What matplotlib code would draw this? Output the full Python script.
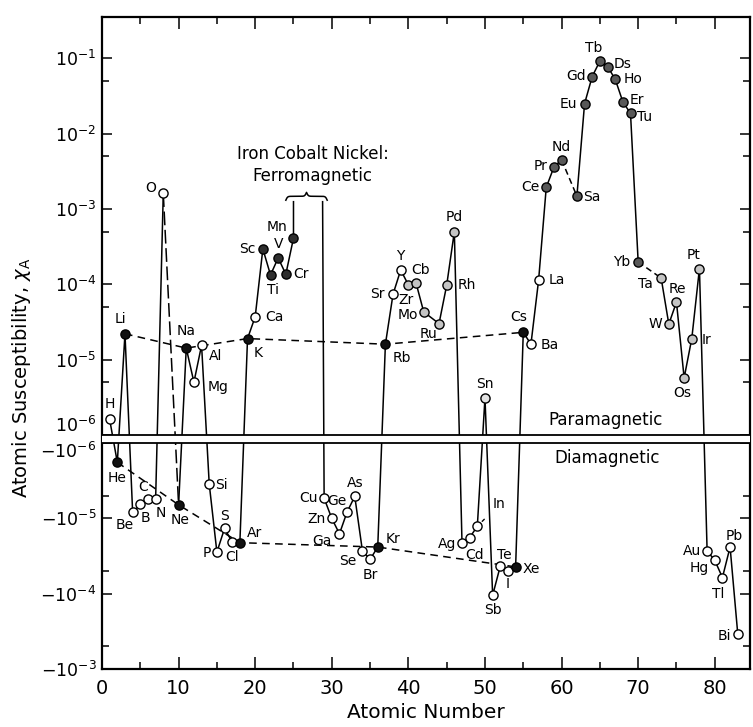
import numpy as np
import matplotlib
matplotlib.use('Agg')
import matplotlib.pyplot as plt
from matplotlib.ticker import FixedLocator, FixedFormatter
from matplotlib.transforms import blended_transform_factory

# ---------------- data ----------------
symbols = ['H', 'He', 'Li', 'Be', 'B', 'C', 'N', 'O', 'Ne', 'Na', 'Mg', 'Al', 'Si', 'P', 'S',
           'Cl', 'Ar', 'K', 'Ca', 'Sc', 'Ti', 'V', 'Cr', 'Mn', 'Cu', 'Zn', 'Ga', 'Ge', 'As',
           'Se', 'Br', 'Kr', 'Rb', 'Sr', 'Y', 'Zr', 'Cb', 'Mo', 'Ru', 'Rh', 'Pd', 'Ag', 'Cd',
           'In', 'Sn', 'Sb', 'Te', 'I', 'Xe', 'Cs', 'Ba', 'La', 'Ce', 'Pr', 'Nd', 'Sa', 'Eu',
           'Gd', 'Tb', 'Ds', 'Ho', 'Er', 'Tu', 'Yb', 'Ta', 'W', 'Re', 'Os', 'Ir', 'Pt', 'Au',
           'Hg', 'Tl', 'Pb', 'Bi']
atomic_number = [1, 2, 3, 4, 5, 6, 7, 8, 10, 11, 12, 13, 14, 15, 16,
                 17, 18, 19, 20, 21, 22, 23, 24, 25, 29, 30, 31, 32, 33,
                 34, 35, 36, 37, 38, 39, 40, 41, 42, 44, 45, 46, 47, 48,
                 49, 50, 51, 52, 53, 54, 55, 56, 57, 58, 59, 60, 62, 63,
                 64, 65, 66, 67, 68, 69, 70, 73, 74, 75, 76, 77, 78, 79,
                 80, 81, 82, 83]
susceptibility = [1.6e-6, -1.8e-6, 2.2e-5, -8.3e-6, -6.5e-6, -5.6e-6, -5.6e-6, 1.62e-3,
                  -6.6e-6, 1.42e-5, 5.0e-6, 1.55e-5, -3.5e-6, -2.8e-5, -1.36e-5,
                  -2.06e-5, -2.1e-5, 1.9e-5, 3.7e-5, 2.95e-4, 1.33e-4, 2.24e-4, 1.36e-4, 4.1e-4,
                  -5.4e-6, -1.0e-5, -1.6e-5, -8.2e-6, -5.1e-6,
                  -2.7e-5, -3.5e-5, -2.4e-5, 1.6e-5, 7.4e-5, 1.55e-4, 9.8e-5, 1.04e-4, 4.3e-5,
                  3.0e-5, 9.7e-5, 5.0e-4, -2.1e-5, -1.8e-5,
                  -1.27e-5, 3.1e-6, -1.05e-4, -4.3e-5, -5.0e-5, -4.4e-5, 2.3e-5, 1.6e-5, 1.13e-4,
                  1.94e-3, 3.6e-3, 4.5e-3, 1.48e-3, 2.5e-2,
                  5.75e-2, 9.2e-2, 7.8e-2, 5.3e-2, 2.65e-2, 1.86e-2, 1.98e-4, 1.21e-4, 2.96e-5,
                  5.8e-5, 5.7e-6, 1.9e-5, 1.62e-4, -2.7e-5,
                  -3.6e-5, -6.1e-5, -2.4e-5, -3.4e-4]
alkali_metals = ['Li', 'Na', 'K', 'Rb', 'Cs']
noble_gases = ['He', 'Ne', 'Ar', 'Kr', 'Xe']
iron_group_3d = ['Sc', 'Ti', 'V', 'Cr', 'Mn']
rare_earths = ['Ce', 'Pr', 'Nd', 'Sa', 'Eu', 'Gd', 'Tb', 'Ds', 'Ho', 'Er', 'Tu', 'Yb']
transition_4d5d = ['Zr', 'Cb', 'Mo', 'Ru', 'Rh', 'Pd', 'Ta', 'W', 'Re', 'Os', 'Ir', 'Pt']
tin_group = ['Sn']
dashed_pairs = [('O', 'Ne'), ('Nd', 'Sa'), ('Yb', 'Ta')]
ferro_pair = ('Mn', 'Cu')
ferro_gap_z = [25.0, 28.8]          # Fe, Co, Ni off scale
ferro_gap_top = 1.25e-3
y_ticks = [1e-1, 1e-2, 1e-3, 1e-4, 1e-5, 1e-6, -1e-6, -1e-5, -1e-4, -1e-3]
y_tick_labels = [r'$10^{-1}$', r'$10^{-2}$', r'$10^{-3}$', r'$10^{-4}$', r'$10^{-5}$',
                 r'$10^{-6}$', r'$-10^{-6}$', r'$-10^{-5}$', r'$-10^{-4}$', r'$-10^{-3}$']
y_minor = [5e-2, 5e-3, 5e-4, 5e-5, 5e-6, -5e-6, -5e-5, -5e-4]
x_ticks = [0, 10, 20, 30, 40, 50, 60, 70, 80]

assert len(symbols) == len(atomic_number) == len(susceptibility)

# ---------------- label placement (pixel offsets, ha) ----------------
label_pos = {
    'H': (0, 15, 'center'), 'Li': (-5, 15, 'center'), 'O': (-13, 5, 'center'),
    'Na': (0, 17, 'center'), 'Mg': (14, -5, 'left'), 'Al': (7, -11, 'left'),
    'K': (11, -14, 'center'), 'Ca': (10, 0, 'left'), 'Sc': (-7, 0, 'right'),
    'Ti': (2, -15, 'center'), 'V': (0, 14, 'center'), 'Cr': (7, 0, 'left'),
    'Mn': (-16, 11, 'center'), 'Sr': (-8, 0, 'right'), 'Y': (0, 14, 'center'),
    'Cb': (5, 13, 'center'), 'Zr': (-2, -15, 'center'), 'Mo': (-6, -3, 'right'),
    'Ru': (-11, -10, 'center'), 'Rh': (11, 0, 'left'), 'Pd': (0, 15, 'center'),
    'Rb': (16, -14, 'center'), 'Cs': (-5, 15, 'center'), 'Ba': (10, -1, 'left'),
    'La': (10, 0, 'left'), 'Sn': (0, 14, 'center'), 'Ce': (-7, 0, 'right'),
    'Pr': (-6, 1, 'right'), 'Nd': (0, 13, 'center'), 'Sa': (6, -1, 'left'),
    'Eu': (-7, 0, 'right'), 'Gd': (-6, 1, 'right'), 'Tb': (-6, 13, 'center'),
    'Ds': (6, 3, 'left'), 'Ho': (8, 0, 'left'), 'Er': (7, 2, 'left'),
    'Tu': (6, -4, 'left'), 'Yb': (-8, 0, 'right'), 'Ta': (-8, -6, 'right'),
    'W': (-7, 0, 'right'), 'Re': (1, 13, 'center'), 'Os': (-2, -15, 'center'),
    'Ir': (10, -1, 'left'), 'Pt': (-6, 14, 'center'),
    'He': (0, -16, 'center'), 'Be': (-8, -13, 'center'), 'B': (5, -14, 'center'),
    'C': (-5, 12, 'center'), 'N': (5, -14, 'center'), 'Ne': (1, -15, 'center'),
    'Si': (6, -1, 'left'), 'P': (-6, -1, 'right'), 'S': (0, 12, 'center'),
    'Cl': (0, -15, 'center'), 'Ar': (15, 10, 'center'), 'Cu': (-6, 0, 'right'),
    'Zn': (-6, -1, 'right'), 'Ga': (-18, -7, 'center'), 'Ge': (-10, 11, 'center'),
    'As': (0, 13, 'center'), 'Se': (-15, -10, 'center'), 'Br': (0, -16, 'center'),
    'Kr': (15, 8, 'center'), 'Ag': (-6, -1, 'right'), 'Cd': (5, -17, 'center'),
    'Te': (4, 11, 'center'), 'Sb': (0, -15, 'center'), 'I': (0, -13, 'center'),
    'Xe': (7, -2, 'left'), 'Au': (-6, 0, 'right'), 'Hg': (-6, -8, 'right'),
    'Tl': (-4, -16, 'center'), 'Pb': (4, 11, 'center'), 'Bi': (-7, -2, 'right'),
}

# ---------------- split scale: log(+) over log(-) ----------------
GAP = 0.11


def fwd(v):
    v = np.asarray(v, dtype=float)
    with np.errstate(all='ignore'):
        lg = np.log10(np.abs(v)) + 6.0
        return np.where(v > 0, lg, np.where(v < 0, -lg - GAP, np.nan))


def inv(t):
    t = np.asarray(t, dtype=float)
    with np.errstate(all='ignore'):
        return np.where(t >= -GAP / 2, 10.0 ** (t - 6.0), -10.0 ** (-(t + GAP) - 6.0))


plt.rcParams['font.family'] = ['DejaVu Sans']
plt.rcParams['mathtext.fontset'] = 'dejavusans'

fig = plt.figure(figsize=(7.53, 7.27), dpi=100)
ax = fig.add_axes([102 / 753, 58 / 727, 648 / 753, 652 / 727])
ax.set_yscale('function', functions=(fwd, inv))

Z = dict(zip(symbols, atomic_number))
X = dict(zip(symbols, susceptibility))

# main solid line (with breaks)
sx, sy = [], []
run_x, run_y = [atomic_number[0]], [susceptibility[0]]
for i in range(1, len(symbols)):
    pair = (symbols[i - 1], symbols[i])
    if pair in dashed_pairs or pair == ferro_pair:
        if pair == ferro_pair:
            run_x.append(ferro_gap_z[0]); run_y.append(ferro_gap_top)
        sx += run_x + [np.nan]; sy += run_y + [np.nan]
        if pair == ferro_pair:
            run_x, run_y = [ferro_gap_z[1]], [ferro_gap_top]
            run_x.append(atomic_number[i]); run_y.append(susceptibility[i])
        else:
            run_x, run_y = [atomic_number[i]], [susceptibility[i]]
    else:
        run_x.append(atomic_number[i]); run_y.append(susceptibility[i])
sx += run_x; sy += run_y
ax.plot(sx, sy, color='black', lw=1.1, zorder=2, solid_joinstyle='miter')

# dashed connections across missing elements
for a, b in dashed_pairs:
    ax.plot([Z[a], Z[b]], [X[a], X[b]], color='black', lw=1.1,
            linestyle=(0, (9, 3)) if a == 'O' else (0, (4, 2.5)), zorder=2)
# alkali and noble-gas trend lines
ax.plot([Z[s] for s in alkali_metals], [X[s] for s in alkali_metals], color='black',
        lw=1.1, linestyle=(0, (5, 3.5)), zorder=2)
ax.plot([Z[s] for s in noble_gases], [X[s] for s in noble_gases], color='black',
        lw=1.1, linestyle=(0, (5, 3.5)), zorder=2)

# gap between paramagnetic and diamagnetic halves
ax.axhspan(-1e-6, 1e-6, color='white', zorder=3, lw=0)
ax.axhline(1e-6, color='black', lw=1.3, zorder=3.1)
ax.axhline(-1e-6, color='black', lw=1.3, zorder=3.1)

# markers
def face(s):
    if s in alkali_metals or s in noble_gases:
        return '#111111'
    if s in iron_group_3d:
        return '#2e2e2e'
    if s in rare_earths:
        return '#585858'
    if s in transition_4d5d:
        return '#c4c4c4'
    if s in tin_group:
        return '#e2e2e2'
    return 'white'


for s in symbols:
    ax.plot([Z[s]], [X[s]], marker='o', ms=6.6, mfc=face(s), mec='black', mew=1.0,
            linestyle='none', zorder=4)

# element labels
for s in symbols:
    if s == 'In':
        ax.annotate('In', (Z[s], X[s]), xytext=(22, 22), textcoords='offset pixels',
                    ha='center', va='center', fontsize=10,
                    arrowprops=dict(arrowstyle='-', lw=1.0, color='black', shrinkA=6, shrinkB=5),
                    zorder=5)
        continue
    dx, dy, ha = label_pos[s]
    ax.annotate(s, (Z[s], X[s]), xytext=(dx, dy), textcoords='offset pixels',
                ha=ha, va='center', fontsize=10, zorder=5)

# ferromagnetic brace and text
bt = blended_transform_factory(ax.transData, ax.transAxes)
bx = np.linspace(24.0, 29.4, 201)
half = bx[:101]
beta = 9.0
yh = 1 / (1 + np.exp(-beta * (half - half[0]))) + 1 / (1 + np.exp(-beta * (half - half[-1])))
by = np.concatenate([yh, yh[-2::-1]])
ax.plot(bx, 0.719 + (by - 0.5) * 0.012, transform=bt, color='black', lw=1.1, zorder=3)
ax.text(27.5, 0.773, 'Iron Cobalt Nickel:\nFerromagnetic', transform=bt, ha='center',
        va='center', fontsize=12, linespacing=1.25, multialignment='center')

ax.text(65.8, 0.382, 'Paramagnetic', transform=bt, ha='center', va='center', fontsize=12)
ax.text(66.0, 0.324, 'Diamagnetic', transform=bt, ha='center', va='center', fontsize=12)

# axes
ax.set_xlim(0, 84.6)
ax.set_ylim(-1e-3, 10 ** -0.45)
ax.xaxis.set_major_locator(FixedLocator(x_ticks))
ax.xaxis.set_minor_locator(FixedLocator([5, 15, 25, 35, 45, 55, 65, 75]))
ax.yaxis.set_major_locator(FixedLocator(y_ticks))
# the two labels at +/-1e-6 are drawn separately so they do not collide
shown_labels = ['' if abs(v) == 1e-6 else lab for v, lab in zip(y_ticks, y_tick_labels)]
ax.yaxis.set_major_formatter(FixedFormatter(shown_labels))
ax.yaxis.set_minor_locator(FixedLocator(y_minor))
ax.yaxis.set_minor_formatter(FixedFormatter([''] * len(y_minor)))
ytr = ax.get_yaxis_transform()
for v, lab in zip(y_ticks, y_tick_labels):
    if abs(v) == 1e-6:
        ax.annotate(lab, (0, v), xycoords=ytr, xytext=(-6, 9 if v > 0 else -9),
                    textcoords='offset pixels', ha='right', va='center', fontsize=12.5,
                    annotation_clip=False)

ax.tick_params(axis='both', which='both', direction='in', top=True, right=True, width=1.1,
               colors='black')
ax.tick_params(axis='x', which='major', length=8.5, labelsize=14, pad=7)
ax.tick_params(axis='x', which='minor', length=5)
ax.tick_params(axis='y', which='major', length=7, labelsize=12.5, pad=4)
ax.tick_params(axis='y', which='minor', length=5)
for sp in ax.spines.values():
    sp.set_linewidth(1.6)

ax.set_xlabel('Atomic Number', fontsize=14.5)
ax.xaxis.set_label_coords(0.5, -0.052)
ax.set_ylabel(r'Atomic Susceptibility, $\chi_{\rm A}$', fontsize=14)
ax.yaxis.set_label_coords(-0.106, 0.446)

fig.savefig('out.png', dpi=100, facecolor='white')
